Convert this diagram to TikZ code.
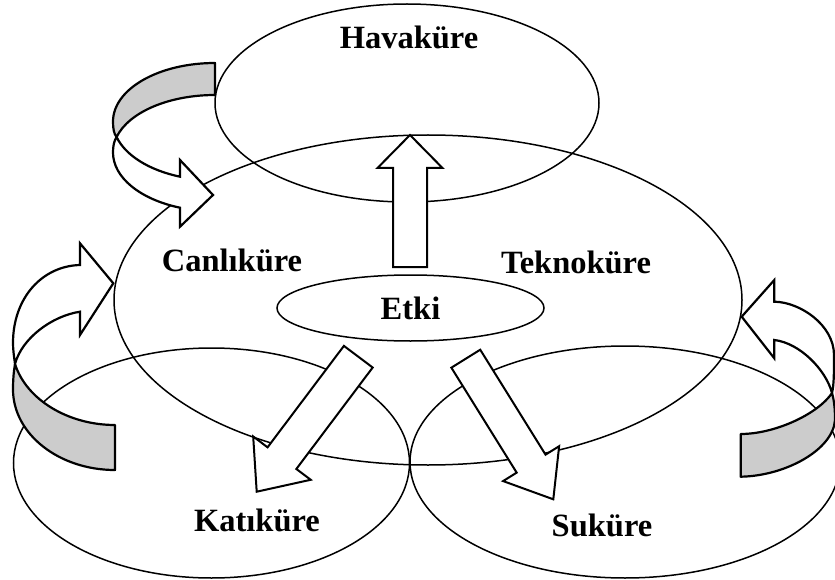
\documentclass[tikz,border=0pt]{standalone}
\usepackage{fontspec}
\setmainfont{Liberation Serif}
\usetikzlibrary{shapes.geometric,calc}
\definecolor{bandgray}{RGB}{204,204,204}

% straight block arrow: #1 tail, #2 tip, #3 half shaft width, #4 half head width, #5 head length
\newcommand\blockarr[5]{%
  \coordinate (ba-base) at ($(#2)!#5!(#1)$);
  \draw[blockarrow] ($(#1)!#3!90:(#2)$) -- ($(ba-base)!#3!90:(#2)$)
    -- ($(ba-base)!#4!90:(#2)$) -- (#2) -- ($(ba-base)!#4!-90:(#2)$)
    -- ($(ba-base)!#3!-90:(#2)$) -- ($(#1)!#3!-90:(#2)$) -- cycle;
}

\begin{document}
\begin{tikzpicture}[x=1pt,y=-1pt,
  sphere/.style={draw, ellipse, line width=1.5pt, inner sep=0pt, outer sep=0pt},
  lbl/.style={font=\fontsize{32.5}{36}\selectfont\bfseries, inner sep=0pt},
  blockarrow/.style={draw, fill=white, line width=2pt, line join=miter},
  backband/.style={draw, fill=bandgray, line width=2.2pt, line join=round},
  frontband/.style={draw, fill=white, line width=2.2pt, line join=miter}]

\useasboundingbox (0,0) rectangle (835,580);

% the spheres
\node[sphere, minimum width=384pt, minimum height=198pt] (hava) at (407,103) {};
\node[sphere, minimum width=628pt, minimum height=330pt] (tekno) at (428,300) {};
\node[sphere, minimum width=396pt, minimum height=230pt] (kati) at (211.5,463) {};
\node[sphere, minimum width=430pt, minimum height=232pt] (su) at (625,462) {};
\node[sphere, lbl, minimum width=267pt, minimum height=66pt] (etki) at (410.5,308) {Etki};

% block arrows out of the impact zone
\coordinate (up-tail) at (410,267);    \coordinate (up-tip) at (410,135);
\coordinate (dl-tail) at (358.3,356.7); \coordinate (dl-tip) at (256.7,491.7);
\coordinate (dr-tail) at (465.8,358.7); \coordinate (dr-tip) at (553.3,499.3);
\blockarr{up-tail}{up-tip}{17pt}{32.5pt}{33pt}
\blockarr{dl-tail}{dl-tip}{18pt}{36pt}{42pt}
\blockarr{dr-tail}{dr-tip}{17pt}{33pt}{42pt}

% curved arrow, upper left
\draw[backband] (215,63) .. controls (158.7,63) and (113,89) .. (113,121.6)
  .. controls (113,129) and (114,134) .. (116.6,137)
  .. controls (129,111.8) and (169.4,95) .. (215,95) -- cycle;
\draw[frontband] (116.6,137) .. controls (125.3,155.3) and (149,170.2) .. (180,176.7)
  -- (180,160) -- (213,195) -- (180,226.7) -- (180,207.7)
  .. controls (139.8,199.3) and (113,177.2) .. (113,152.6)
  .. controls (113,146) and (114,141) .. (116.6,137) -- cycle;

% curved arrow, left
\draw[backband] (15,364) .. controls (26.4,399.8) and (68.3,425) .. (115,425)
  -- (115,470) .. controls (58.7,470) and (13,433.9) .. (13,389.4)
  .. controls (13,378) and (14,370) .. (15,364) -- cycle;
\draw[frontband] (15,364) .. controls (14,356) and (13,350) .. (13,343)
  .. controls (13,298) and (42,266) .. (80,265)
  -- (80,243.3) -- (113.3,283.3) -- (80,335) -- (80,311.7)
  .. controls (52,316) and (22,338) .. (15,364) -- cycle;

% curved arrow, right
\draw[backband] (832,393) .. controls (818,414) and (775,434) .. (740.7,434)
  -- (740.7,476.7) .. controls (785,476) and (833,450) .. (835,420)
  .. controls (835,408) and (834,400) .. (832,393) -- cycle;
\draw[frontband] (832,393) .. controls (834,385) and (834,372) .. (834,355)
  .. controls (834,325) and (800,302) .. (774.3,301.7)
  -- (774.3,280) -- (741.7,316.7) -- (774.3,358.3) -- (774.3,340)
  .. controls (800,343) and (826,370) .. (832,393) -- cycle;

% sphere names
\node[lbl] (t-hava) at (409,37) {Havaküre};
\node[lbl] (t-canli) at (232,260) {Canlıküre};
\node[lbl] (t-tekno) at (576,262) {Teknoküre};
\node[lbl] (t-kati) at (257,520) {Katıküre};
\node[lbl] (t-su) at (602,525) {Suküre};
\end{tikzpicture}
\end{document}
